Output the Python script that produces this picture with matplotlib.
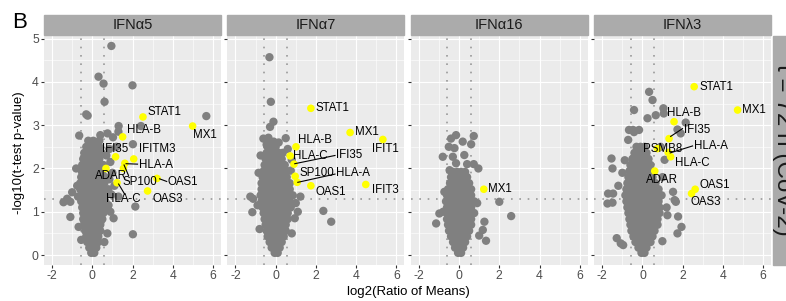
import matplotlib
matplotlib.use("Agg")
import matplotlib.pyplot as plt
from matplotlib.patches import Rectangle

plt.rcParams['font.family'] = ['Liberation Sans', 'DejaVu Sans']
plt.rcParams['axes.unicode_minus'] = False

panel_names = ['IFN\u03b15', 'IFN\u03b17', 'IFN\u03b116', 'IFN\u03bb3']
row_label = 't = 72 h (CoV-2)'
fc_cut = 0.585     # log2(1.5)
p_cut = 1.301      # -log10(0.05)

# dense core of each volcano: rows of (-log10 p, [log2 ratios])
core_a5 = [
    (0.05, [-0.05, 0.1]),
    (0.17, [-0.15, 0.05, 0.2]),
    (0.3, [-0.25, -0.05, 0.15, 0.3]),
    (0.43, [-0.3, -0.1, 0.1, 0.3]),
    (0.56, [-0.35, -0.15, 0.05, 0.25, 0.4]),
    (0.7, [-0.4, -0.2, 0.0, 0.2, 0.4]),
    (0.83, [-0.45, -0.25, -0.05, 0.15, 0.35, 0.5]),
    (0.97, [-0.45, -0.25, -0.05, 0.15, 0.35, 0.55]),
    (1.1, [-0.5, -0.3, -0.1, 0.1, 0.3, 0.5, 0.65]),
    (1.24, [-0.55, -0.35, -0.15, 0.05, 0.25, 0.45, 0.65]),
    (1.38, [-0.55, -0.35, -0.15, 0.05, 0.25, 0.45, 0.65]),
    (1.52, [-0.6, -0.4, -0.2, 0.0, 0.2, 0.4, 0.6, 0.8]),
    (1.66, [-0.6, -0.4, -0.2, 0.0, 0.2, 0.4, 0.6]),
    (1.8, [-0.55, -0.35, -0.15, 0.05, 0.25, 0.45, 0.65]),
    (1.94, [-0.5, -0.3, -0.1, 0.1, 0.3, 0.5]),
    (2.08, [-0.5, -0.3, -0.1, 0.1, 0.3, 0.55]),
    (2.22, [-0.45, -0.25, -0.05, 0.15, 0.35]),
    (2.36, [-0.4, -0.2, 0.0, 0.2, 0.45]),
    (2.5, [-0.3, -0.1, 0.15, 0.35]),
    (2.64, [-0.2, 0.05]),
]
core_a7 = [
    (0.05, [-0.05, 0.1]),
    (0.17, [-0.2, 0.0, 0.2]),
    (0.3, [-0.3, -0.1, 0.1, 0.3]),
    (0.43, [-0.4, -0.2, 0.0, 0.2, 0.4]),
    (0.56, [-0.45, -0.25, -0.05, 0.15, 0.35, 0.5]),
    (0.7, [-0.5, -0.3, -0.1, 0.1, 0.3, 0.5]),
    (0.83, [-0.55, -0.35, -0.15, 0.05, 0.25, 0.45, 0.6]),
    (0.97, [-0.6, -0.4, -0.2, 0.0, 0.2, 0.4, 0.6]),
    (1.1, [-0.65, -0.45, -0.25, -0.05, 0.15, 0.35, 0.55, 0.75]),
    (1.24, [-0.7, -0.5, -0.3, -0.1, 0.1, 0.3, 0.5, 0.7]),
    (1.38, [-0.75, -0.55, -0.35, -0.15, 0.05, 0.25, 0.45, 0.65, 0.85]),
    (1.52, [-0.7, -0.5, -0.3, -0.1, 0.1, 0.3, 0.5, 0.7]),
    (1.66, [-0.7, -0.5, -0.3, -0.1, 0.1, 0.3, 0.5, 0.7]),
    (1.8, [-0.65, -0.45, -0.25, -0.05, 0.15, 0.35, 0.55]),
    (1.94, [-0.6, -0.4, -0.2, 0.0, 0.2, 0.4, 0.55]),
    (2.08, [-0.55, -0.35, -0.15, 0.05, 0.25, 0.45]),
    (2.22, [-0.5, -0.3, -0.1, 0.1, 0.3]),
    (2.36, [-0.45, -0.25, -0.05, 0.15, 0.35]),
    (2.5, [-0.4, -0.2, 0.0]),
    (2.62, [-0.3, -0.1]),
]
core_a16 = [
    (0.05, [-0.05, 0.1]),
    (0.17, [-0.2, 0.0, 0.2]),
    (0.3, [-0.3, -0.1, 0.1, 0.3]),
    (0.43, [-0.4, -0.2, 0.0, 0.2, 0.4]),
    (0.56, [-0.5, -0.3, -0.1, 0.1, 0.3, 0.5]),
    (0.7, [-0.55, -0.35, -0.15, 0.05, 0.25, 0.45, 0.6]),
    (0.83, [-0.6, -0.4, -0.2, 0.0, 0.2, 0.4, 0.6]),
    (0.97, [-0.6, -0.4, -0.2, 0.0, 0.2, 0.4, 0.6, 0.75]),
    (1.1, [-0.6, -0.4, -0.2, 0.0, 0.2, 0.4, 0.6]),
    (1.24, [-0.65, -0.45, -0.25, -0.05, 0.15, 0.35, 0.55, 0.75]),
    (1.38, [-0.6, -0.4, -0.2, 0.0, 0.2, 0.4, 0.6]),
    (1.52, [-0.55, -0.35, -0.15, 0.05, 0.25, 0.45, 0.6]),
    (1.66, [-0.45, -0.25, -0.05, 0.15, 0.35, 0.5]),
    (1.8, [-0.4, -0.2, 0.0, 0.2, 0.4]),
    (1.92, [-0.3, -0.1, 0.1, 0.3]),
]
core_l3 = [
    (0.05, [-0.05, 0.1]),
    (0.17, [-0.2, 0.0, 0.2]),
    (0.3, [-0.35, -0.15, 0.05, 0.25, 0.4]),
    (0.43, [-0.45, -0.25, -0.05, 0.15, 0.35, 0.5]),
    (0.56, [-0.55, -0.35, -0.15, 0.05, 0.25, 0.45, 0.6]),
    (0.7, [-0.6, -0.4, -0.2, 0.0, 0.2, 0.4, 0.6, 0.75]),
    (0.83, [-0.65, -0.45, -0.25, -0.05, 0.15, 0.35, 0.55, 0.75]),
    (0.97, [-0.7, -0.5, -0.3, -0.1, 0.1, 0.3, 0.5, 0.7, 0.85]),
    (1.1, [-0.75, -0.55, -0.35, -0.15, 0.05, 0.25, 0.45, 0.65, 0.85]),
    (1.24, [-0.8, -0.6, -0.4, -0.2, 0.0, 0.2, 0.4, 0.6, 0.8]),
    (1.38, [-0.85, -0.65, -0.45, -0.25, -0.05, 0.15, 0.35, 0.55, 0.75, 0.95]),
    (1.52, [-0.8, -0.6, -0.4, -0.2, 0.0, 0.2, 0.4, 0.6, 0.8]),
    (1.66, [-0.75, -0.55, -0.35, -0.15, 0.05, 0.25, 0.45, 0.65]),
    (1.8, [-0.7, -0.5, -0.3, -0.1, 0.1, 0.3, 0.5]),
    (1.94, [-0.65, -0.45, -0.25, -0.05, 0.15, 0.35]),
    (2.08, [-0.6, -0.4, -0.2, 0.0, 0.2, 0.4]),
    (2.22, [-0.5, -0.3, -0.1, 0.1, 0.3]),
    (2.36, [-0.4, -0.2, 0.0, 0.2]),
    (2.5, [-0.3, -0.1, 0.1]),
]

# scattered gray proteins outside the core
out_a5_x = [0.95, 0.31, 0.56, 2.0, 0.61, -0.23, -0.3, 1.31, 2.42, 5.67, -0.65, 0.4, 0.76, 1.3, 2.02,
            0.35, 1.03, 0.85, 1.2, 0.7, 0.9, 1.0, 0.85, 1.1, 0.95, 1.3, -0.8, -0.75, -1.0, -1.43,
            -1.09, -0.71, -1.25, -1.09, -0.68, 1.06, 0.81, 2.14, 2.02, -0.51, 0.75, 0.6, -0.55, 0.9]
out_a5_y = [4.83, 4.12, 3.96, 3.92, 3.54, 3.22, 3.25, 2.98, 2.98, 3.21, 2.76, 2.77, 2.81, 2.85, 2.56,
            2.64, 2.72, 2.45, 2.5, 2.3, 2.15, 1.9, 1.75, 1.6, 1.4, 1.35, 2.0, 1.6, 1.45, 1.22,
            1.23, 1.35, 1.3, 0.88, 0.65, 0.85, 1.15, 1.12, 0.48, 1.92, 0.5, 0.3, 0.35, 1.0]
out_a7_x = [-0.31, -0.24, -0.11, -0.28, -0.61, -0.36, -0.45, 0.15, 0.6, 2.37, 2.76, -1.26, -1.12,
            -1.16, -0.9, 1.23, 1.0, 0.95, 0.8, -0.8, 1.1, -0.85, 0.8, 0.75, -0.75, 0.5]
out_a7_y = [4.57, 3.54, 3.08, 2.96, 2.69, 2.71, 2.55, 2.6, 2.45, 1.02, 0.77, 1.35, 1.3,
            0.99, 1.15, 1.35, 1.2, 0.85, 0.5, 0.6, 1.0, 1.9, 2.2, 1.95, 2.3, 2.7]
out_a16_x = [-0.15, -0.4, 0.73, 0.18, 0.6, -0.51, -0.23, -0.81, 0.26, -0.31, -0.15, 0.4, 0.73,
             0.96, -0.47, 2.0, 2.59, -1.14, -0.98, 1.34, 1.26, 1.18, -0.73, -0.79, 0.9, 1.0]
out_a16_y = [2.77, 2.69, 2.75, 2.62, 2.56, 2.5, 2.47, 2.27, 2.31, 2.27, 2.12, 2.1, 2.1,
             2.0, 1.96, 1.23, 0.9, 0.73, 0.96, 0.33, 0.77, 0.58, 1.46, 1.0, 1.2, 0.45]
out_l3_x = [0.33, 0.5, -0.42, 1.04, 1.06, 0.25, 0.66, 2.15, -0.67, -0.17, -0.42, 1.74, 1.9, -1.54,
            -0.47, -0.71, -0.88, -1.49, -1.0, -1.74, -1.49, -1.71, -1.46, -1.28, -1.08, -0.96, 1.66,
            1.74, 1.24, 0.99, 1.52, 1.6, 1.94, 1.77, 0.9, 1.1, 1.0, -1.2, 1.2]
out_l3_y = [3.77, 3.58, 3.35, 3.39, 3.27, 3.16, 3.23, 3.06, 2.89, 2.89, 2.84, 2.9, 2.81, 2.23,
            2.89, 2.66, 2.19, 2.0, 1.9, 1.19, 1.21, 1.42, 1.42, 0.39, 0.27, 0.23, 1.23,
            0.5, 0.92, 0.32, 1.46, 1.27, 0.65, 0.89, 2.5, 2.2, 1.8, 1.6, 1.1]

# highlighted ISGs (yellow)
hi_a5_genes = ['STAT1', 'MX1', 'HLA-B', 'IFI35', 'IFITM3', 'HLA-A', 'SP100', 'ADAR', 'OAS1', 'OAS3', 'HLA-C']
hi_a5_x = [2.52, 4.99, 1.51, 1.16, 2.06, 1.62, 1.55, 0.68, 3.22, 2.75, 1.23]
hi_a5_y = [3.19, 2.98, 2.73, 2.27, 2.22, 2.12, 2.0, 2.0, 1.77, 1.48, 1.67]
hi_a7_genes = ['STAT1', 'MX1', 'IFIT1', 'HLA-B', 'HLA-C', 'IFI35', 'SP100', 'HLA-A', 'OAS1', 'IFIT3']
hi_a7_x = [1.75, 3.70, 5.33, 1.01, 0.72, 0.91, 0.97, 1.07, 1.75, 4.48]
hi_a7_y = [3.39, 2.83, 2.67, 2.5, 2.29, 2.1, 1.82, 1.68, 1.6, 1.63]
hi_a16_genes = ['MX1']
hi_a16_x = [1.23]
hi_a16_y = [1.52]
hi_l3_genes = ['STAT1', 'MX1', 'HLA-B', 'IFI35', 'PSMB8', 'HLA-A', 'HLA-C', 'ADAR', 'OAS1', 'OAS3']
hi_l3_x = [2.57, 4.73, 1.57, 1.32, 0.75, 1.28, 1.4, 0.61, 2.62, 2.44]
hi_l3_y = [3.89, 3.35, 3.08, 2.69, 2.46, 2.37, 2.27, 1.94, 1.52, 1.42]

# label placement (left edge, vertical centre) and leader lines
label_pos = [
    {'STAT1': (2.74, 3.31), 'MX1': (5.02, 2.77), 'HLA-B': (1.73, 2.89), 'IFI35': (0.48, 2.46),
     'IFITM3': (2.3, 2.46), 'HLA-A': (2.3, 2.08), 'SP100': (1.48, 1.68), 'ADAR': (0.15, 1.82),
     'OAS1': (3.72, 1.68), 'OAS3': (2.97, 1.29), 'HLA-C': (0.7, 1.29)},
    {'STAT1': (1.96, 3.39), 'MX1': (3.92, 2.85), 'IFIT1': (4.78, 2.46), 'HLA-B': (1.13, 2.66),
     'HLA-C': (0.85, 2.29), 'IFI35': (2.98, 2.31), 'SP100': (1.16, 1.89), 'HLA-A': (2.98, 1.89),
     'OAS1': (1.99, 1.46), 'IFIT3': (4.81, 1.5)},
    {'MX1': (1.46, 1.52)},
    {'STAT1': (2.82, 3.89), 'MX1': (4.94, 3.35), 'HLA-B': (1.21, 3.27), 'IFI35': (2.07, 2.89),
     'PSMB8': (0.05, 2.46), 'HLA-A': (2.54, 2.52), 'HLA-C': (1.62, 2.12), 'ADAR': (0.16, 1.73),
     'OAS1': (2.82, 1.62), 'OAS3': (2.4, 1.22)},
]
leaders = [
    [((1.68, 2.11), (2.25, 2.1)), ((1.58, 2.08), (1.8, 1.84)), ((1.31, 1.64), (1.62, 1.4)),
     ((3.35, 1.76), (3.7, 1.7))],
    [((0.95, 2.11), (2.95, 2.3)), ((1.1, 1.68), (2.95, 1.87))],
    [],
    [((1.4, 2.74), (1.99, 2.92)), ((1.38, 2.36), (2.49, 2.52))],
]

cores = [core_a5, core_a7, core_a16, core_l3]
outs = [(out_a5_x, out_a5_y), (out_a7_x, out_a7_y), (out_a16_x, out_a16_y), (out_l3_x, out_l3_y)]
his = [(hi_a5_genes, hi_a5_x, hi_a5_y), (hi_a7_genes, hi_a7_x, hi_a7_y),
       (hi_a16_genes, hi_a16_x, hi_a16_y), (hi_l3_genes, hi_l3_x, hi_l3_y)]

W, H = 786, 301
fig = plt.figure(figsize=(W / 100, H / 100), dpi=100)

strip_col = '#ababab'
for i in range(4):
    left = 44 + i * 183.4
    ax = fig.add_axes([left / W, (H - 265) / H, 177 / W, (265 - 36) / H])
    ax.set_facecolor('#ebebeb')
    for s in ax.spines.values():
        s.set_visible(False)
    ax.set_xlim(-2.4, 6.4)
    ax.set_ylim(-0.23, 5.06)
    ax.set_xticks([-2, 0, 2, 4, 6])
    ax.set_xticks([-1, 1, 3, 5], minor=True)
    ax.set_yticks([0, 1, 2, 3, 4, 5])
    ax.set_yticks([0.5, 1.5, 2.5, 3.5, 4.5], minor=True)
    ax.grid(True, which='major', color='white', lw=0.8)
    ax.grid(True, which='minor', color='white', lw=0.4)
    ax.set_axisbelow(True)
    ax.tick_params(which='major', length=2.2, width=0.8, color='#333333',
                   labelsize=8.8, labelcolor='#4d4d4d', pad=1.5)
    ax.tick_params(which='minor', length=0)
    if i > 0:
        ax.tick_params(axis='y', which='major', labelleft=False)

    dots = dict(color='#999999', lw=1.2, ls=(0, (1, 4)), zorder=1)
    ax.axvline(-fc_cut, **dots)
    ax.axvline(fc_cut, **dots)
    ax.axhline(p_cut, **dots)

    cx = [x for y, row in cores[i] for x in row]
    cy = [y for y, row in cores[i] for x in row]
    ax.scatter(cx, cy, s=36, color='#808080', edgecolors='none', zorder=2)
    ax.scatter(outs[i][0], outs[i][1], s=36, color='#808080', edgecolors='none', zorder=2)

    genes, hx, hy = his[i]
    ax.scatter(hx, hy, s=30, color='#ffff00', edgecolors='none', zorder=3)
    for (x0, y0), (x1, y1) in leaders[i]:
        ax.plot([x0, x1], [y0, y1], color='black', lw=0.8, zorder=4)
    for g in genes:
        tx, ty = label_pos[i][g]
        ax.text(tx, ty, g, fontsize=8.3, color='black', ha='left', va='center', zorder=5)

    # facet strip
    fig.patches.append(Rectangle((left / W, (H - 35) / H), 177 / W, 20 / H,
                                 transform=fig.transFigure, color=strip_col, zorder=0))
    fig.text((left + 88.5) / W, (H - 25) / H, panel_names[i], fontsize=10.5,
             color='#1a1a1a', ha='center', va='center')

# right row strip (cut at the figure edge, as in the source)
fig.patches.append(Rectangle((773 / W, (H - 265) / H), 30 / W, 229 / H,
                             transform=fig.transFigure, color=strip_col, zorder=0))
fig.text(783.5 / W, (H - 150) / H, row_label, fontsize=17.5, color='#1a1a1a',
         rotation=-90, ha='center', va='center')

fig.text(408 / W, (H - 292) / H, 'log2(Ratio of Means)', fontsize=9.5,
         ha='center', va='center')
fig.text(19 / W, (H - 153) / H, '-log10(t-test p-value)', fontsize=9.5,
         rotation=90, ha='center', va='center')
fig.text(12 / W, (H - 12) / H, 'B', fontsize=16, ha='left', va='top')

fig.savefig('out.png', dpi=100)
